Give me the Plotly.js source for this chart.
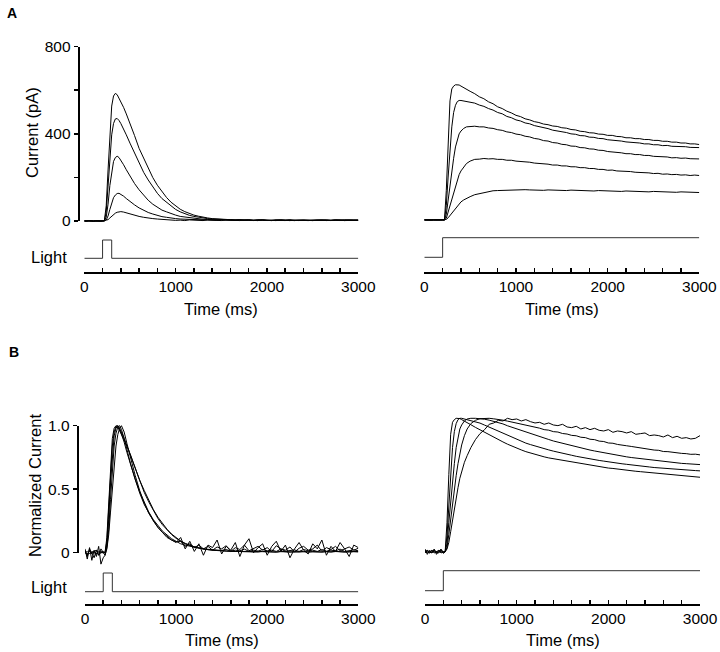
<!DOCTYPE html>
<html><head><meta charset="utf-8">
<script src="https://cdn.plot.ly/plotly-3.0.1.min.js"></script>
<style>html,body{margin:0;padding:0;background:#fff;} #chart{width:720px;height:652px;}</style>
</head><body><div id="chart"></div>
<script>
// ---- DATA ----
const timeMs = [0,25,50,75,100,125,150,175,200,
  220,240,260,280,300,320,340,360,380,400,430,460,
  500,550,600,650,700,750,800,850,900,950,1000,1050,1100,1150,1200,1250,1300,1350,1400,1450,
  1500,1550,1600,1650,1700,1750,1800,1850,1900,1950,2000,2050,2100,2150,2200,2250,2300,2350,2400,2450,
  2500,2550,2600,2650,2700,2750,2800,2850,2900,2950,3000];

// Panel A, brief flash (pA)
const flashCur1 = [1,-1,2,0,-2,1,0,-1,1,
  2,70,234,410,527,573,585,579,562,550,521,491,
  450,392,333,287,240,199,164,135,108,86, 68,54,43,34,27,22,17,14,11,9, 8,7,6,5,6,4,5,3,6,4, 3,5,2,4,3,5,2,4,3,5, 2,4,3,5,3,4,2,5,3,4, 3];
const flashCur2 = [0,1,-1,1,0,-1,1,0,-1,
  1,42,160,301,395,447,468,470,461,447,423,395,
  357,310,263,223,188,155,127,103,85,67, 53,42,33,26,21,17,14,11,9,8, 7,6,5,4,6,3,5,4,2,5, 3,4,2,5,3,2,4,3,5,2, 4,3,2,4,3,5,3,2,4,3, 4];
const flashCur3 = [1,0,-1,1,0,1,-1,0,1,
  0,18,77,163,232,273,291,297,291,279,258,235,
  205,172,143,119,95,77,62,50,42,33, 27,21,18,15,12,10,8,7,6,5, 6,4,5,3,5,4,2,4,3,5, 2,4,3,4,2,5,3,2,4,3, 5,2,3,4,2,4,3,5,2,3, 4];
const flashCur4 = [0,1,-1,0,1,0,0,1,-1,
  0,5,23,53,84,107,119,126,127,123,114,103,
  89,74,60,48,39,32,25,20,17,13, 11,9,8,7,6,5,6,4,5,3, 5,4,2,4,6,3,4,2,5,3, 4,2,5,3,4,6,2,3,5,4, 2,4,3,5,3,2,4,5,3,4, 3];
const flashCur5 = [-1,1,0,-1,0,1,0,-1,1,
  0,1,6,14,22,30,36,40,42,43,41,37,
  32,26,21,17,13,11,9,7,5,4, 3,4,2,5,3,4,2,5,3,4, 2,5,3,4,2,4,3,5,2,4, 3,2,5,3,4,2,3,5,4,2, 4,3,5,2,4,3,5,2,4,3, 4];

// Panel A, steady light (pA)
const stepCur1 = [0,1,-1,1,0,-1,1,0,0,
  0,136,360,546,601,614,620,620,619,614,606,598,
  590,579,565,556,542,533,519,511,499,491, 480,474,464,459,451,447,440,437,431,429, 423,421,415,413,407,405,400,399,394,393, 388,388,383,382,377,377,373,373,369,369, 365,365,361,361,357,357,353,353,349,349, 346];
const stepCur2 = [1,0,-1,0,1,0,-1,1,0,
  0,66,197,318,427,493,526,543,548,548,546,543,
  540,536,527,521,511,504,493,487,475,469, 459,454,445,441,433,429,422,419,412,409, 403,401,395,393,387,386,380,379,374,373, 368,367,363,362,358,357,353,353,349,349, 345,345,341,342,338,338,335,336,333,334, 332];
const stepCur3 = [0,-1,1,0,-1,1,0,0,1,
  0,26,94,163,223,283,335,369,395,408,420,427,
  429,430,427,427,422,420,414,411,404,401, 394,391,384,381,374,371,364,362,355,353, 347,345,339,338,332,331,326,325,320,319, 314,313,309,308,304,304,300,300,296,296, 292,292,289,289,285,286,283,284,281,282, 280];
const stepCur4 = [1,0,0,-1,1,0,-1,0,1,
  0,8,37,70,101,132,160,185,208,225,244,259,
  270,278,279,282,280,281,278,278,274,274, 270,269,265,265,261,260,256,256,252,252, 248,248,244,244,240,240,236,236,232,232, 228,229,225,225,222,222,219,219,216,216, 213,214,210,211,208,209,206,207,204,206, 204];
const stepCur5 = [0,1,-1,0,1,-1,0,1,0,
  0,3,10,21,33,44,55,66,75,83,92,99,
  107,116,121,127,131,134,135,136,137,138, 138,137,139,138,137,138,136,138,137,136, 137,135,137,136,134,136,135,133,135,134, 132,134,133,131,133,132,130,132,131,129, 131,130,128,130,129,127,129,128,126,128, 126];

// Panel B, brief flash (normalized)
const flashNorm1 = [0.00,0.01,-0.01,0.01,0.00,-0.01,0.01,0.00,0.00,
  0.00,0.12,0.40,0.70,0.90,0.98,1.00,0.99,0.96,0.94,0.89,0.84,
  0.77,0.67,0.57,0.49,0.41,0.34,0.28,0.23,0.185,0.147, 0.116,0.092,0.074,0.058,0.046,0.038,0.029,0.024,0.019,0.016,
  0.014,0.012,0.011,0.010,0.012,0.008,0.010,0.007,0.011,0.008, 0.006,0.009,0.005,0.008,0.006,0.009,0.005,0.007,0.006,0.009,
  0.005,0.007,0.006,0.008,0.005,0.009,0.006,0.007,0.005,0.008, 0.006];
const flashNorm2 = [0.00,-0.01,0.01,0.00,0.01,-0.01,0.00,0.01,0.00,
  0.00,0.09,0.34,0.64,0.84,0.95,0.995,1.00,0.98,0.95,0.90,0.84,
  0.76,0.66,0.56,0.475,0.40,0.33,0.27,0.22,0.18,0.143, 0.113,0.09,0.07,0.056,0.045,0.036,0.029,0.024,0.02,0.017,
  0.015,0.013,0.011,0.01,0.013,0.007,0.011,0.008,0.005,0.01, 0.007,0.009,0.005,0.011,0.007,0.005,0.009,0.006,0.011,0.005,
  0.009,0.006,0.005,0.009,0.007,0.011,0.006,0.005,0.009,0.007, 0.009];
const flashNorm3 = [0.01,-0.02,0.02,-0.01,0.01,0.02,-0.02,0.00,0.01,
  0.00,0.06,0.26,0.55,0.78,0.92,0.98,1.00,0.98,0.94,0.87,0.79,
  0.69,0.58,0.48,0.40,0.32,0.26,0.21,0.17,0.14,0.11, 0.09,0.07,0.06,0.05,0.04,0.035,0.03,0.025,0.02,0.02,
  0.018,0.025,0.012,0.02,0.015,0.028,0.01,0.02,0.012,0.025, 0.015,0.02,0.01,0.028,0.012,0.018,0.022,0.01,0.025,0.015,
  0.02,0.01,0.025,0.012,0.02,0.015,0.028,0.01,0.018,0.022, 0.015];
const flashNorm4 = [0.02,-0.03,0.03,0.00,-0.04,0.02,-0.02,0.03,0.00,
  -0.02,0.04,0.18,0.42,0.66,0.84,0.94,0.99,1.00,0.97,0.90,0.81,
  0.70,0.58,0.47,0.38,0.31,0.25,0.20,0.16,0.13,0.10, 0.085,0.09,0.05,0.07,0.04,0.06,0.03,0.05,0.02,0.045,
  0.03,0.055,0.01,0.04,0.025,0.06,0.015,0.035,0.05,0.02, 0.04,0.01,0.055,0.03,0.02,0.045,0.005,0.035,0.05,0.02,
  0.03,0.06,0.01,0.04,0.025,0.05,0.015,0.03,0.045,0.02, 0.035];
const flashNorm5 = [0.03,-0.05,0.04,-0.06,0.02,-0.03,0.05,-0.09,-0.04,
  -0.02,0.03,0.14,0.32,0.52,0.70,0.84,0.93,0.98,1.00,0.95,0.86,
  0.74,0.61,0.49,0.39,0.31,0.25,0.20,0.16,0.12,0.10, 0.08,0.12,0.03,0.09,0.01,0.07,-0.02,0.06,0.04,0.10,
  -0.01,0.05,0.02,0.08,-0.03,0.06,0.11,0.00,0.04,0.07, -0.02,0.05,0.09,0.01,0.06,-0.04,0.03,0.08,0.02,-0.01,
  0.07,0.03,0.10,-0.02,0.05,0.01,0.08,0.03,-0.03,0.06, 0.04];

// Panel B, steady light (normalized)
const stepNorm1 = [0.01,-0.01,0.00,0.01,-0.01,0.00,0.01,-0.01,0.00,
  0.00,0.22,0.58,0.88,0.97,0.99,1.00,1.00,0.998,0.99,0.977,0.965,
  0.952,0.932,0.913,0.895,0.876,0.858,0.839,0.823,0.806,0.790, 0.776,0.763,0.750,0.739,0.729,0.719,0.711,0.703,0.697,0.690,
  0.684,0.677,0.671,0.665,0.658,0.652,0.647,0.642,0.637,0.632, 0.627,0.624,0.619,0.615,0.610,0.606,0.603,0.600,0.597,0.594,
  0.590,0.587,0.584,0.581,0.577,0.574,0.571,0.568,0.565,0.561, 0.558];
const stepNorm2 = [0.00,0.01,-0.01,0.00,0.01,-0.01,0.00,0.01,-0.01,
  0.00,0.12,0.36,0.58,0.78,0.90,0.96,0.99,1.00,1.00,0.995,0.99,
  0.985,0.976,0.964,0.949,0.934,0.918,0.901,0.887,0.869,0.854, 0.839,0.827,0.814,0.803,0.792,0.781,0.772,0.763,0.754,0.745,
  0.737,0.730,0.723,0.715,0.708,0.703,0.695,0.690,0.684,0.679, 0.673,0.668,0.664,0.659,0.655,0.650,0.646,0.642,0.639,0.635,
  0.631,0.628,0.624,0.622,0.619,0.615,0.613,0.611,0.609,0.608, 0.606];
const stepNorm3 = [0.01,0.00,-0.01,0.01,0.00,-0.01,0.01,0.00,-0.01,
  0.00,0.06,0.22,0.38,0.52,0.66,0.78,0.86,0.92,0.95,0.98,0.995,
  1.00,1.00,0.998,0.993,0.986,0.977,0.967,0.958,0.944,0.932, 0.921,0.909,0.897,0.886,0.874,0.862,0.851,0.841,0.830,0.821,
  0.811,0.802,0.793,0.786,0.776,0.769,0.762,0.755,0.748,0.741, 0.734,0.727,0.723,0.716,0.711,0.706,0.702,0.697,0.692,0.688,
  0.683,0.678,0.676,0.671,0.667,0.664,0.662,0.660,0.657,0.655, 0.653];
const stepNorm4 = [-0.01,0.01,0.00,-0.01,0.01,0.00,-0.01,0.01,0.00,
  0.00,0.03,0.13,0.25,0.36,0.47,0.57,0.66,0.74,0.80,0.87,0.92,
  0.96,0.985,0.997,1.00,1.00,0.996,0.993,0.986,0.979,0.972, 0.964,0.958,0.947,0.944,0.932,0.926,0.915,0.911,0.900,0.897,
  0.886,0.882,0.872,0.869,0.858,0.855,0.843,0.840,0.829,0.826, 0.815,0.813,0.804,0.801,0.794,0.789,0.783,0.779,0.772,0.768,
  0.762,0.760,0.751,0.750,0.744,0.742,0.737,0.735,0.730,0.731, 0.726];
const stepNorm5 = [0.02,-0.02,0.01,-0.01,0.02,-0.02,0.00,0.02,-0.01,
  0.00,0.02,0.07,0.15,0.24,0.32,0.40,0.48,0.55,0.60,0.67,0.72,
  0.78,0.84,0.885,0.915,0.955,0.965,0.985,0.98,1.00,0.99, 0.995,0.98,0.99,0.975,0.965,0.97,0.955,0.965,0.95,0.945,
  0.955,0.935,0.93,0.94,0.92,0.93,0.915,0.925,0.91,0.905, 0.915,0.895,0.905,0.90,0.89,0.90,0.88,0.885,0.89,0.87,
  0.875,0.87,0.86,0.875,0.855,0.865,0.85,0.855,0.845,0.85, 0.87];

// Light stimulus
const flashT = [0,200,200,300,300,3000];
const flashOn = [0,0,1,1,0,0];
const stepT = [0,200,200,3000];
const stepOn = [0,0,1,1];

// Tick labels
const normTickVals = [0,0.5,1];
const normTickText = ['0','0.5','1.0'];

// ---- LAYOUT ----
const W = 720, H = 652;
const FONT = 'Liberation Sans, Arial, Helvetica, sans-serif';
function yDom(pyZero, ppu, lo, hi){ return [1-(pyZero - lo*ppu)/H, 1-(pyZero - hi*ppu)/H]; }

const panels = [
  {x0:84.3, x1:358.3, axisPy:271.7, zero:221, ppu:0.2181, lo:-40, hi:830, lLow:258.3, lHigh:240, series:[flashCur1,flashCur2,flashCur3,flashCur4,flashCur5], light:[flashT,flashOn]},
  {x0:424.3, x1:699.3, axisPy:271.7, zero:220, ppu:0.2181, lo:-40, hi:830, lLow:257.3, lHigh:237.7, series:[stepCur1,stepCur2,stepCur3,stepCur4,stepCur5], light:[stepT,stepOn]},
  {x0:85, x1:358.3, axisPy:604, zero:552.7, ppu:127, lo:-0.14, hi:1.1, lLow:591.7, lHigh:573, series:[flashNorm1,flashNorm2,flashNorm3,flashNorm4,flashNorm5], light:[flashT,flashOn]},
  {x0:425, x1:700, axisPy:604, zero:551.7, ppu:133.4, lo:-0.1, hi:1.1, lLow:590.7, lHigh:570.7, series:[stepNorm1,stepNorm2,stepNorm3,stepNorm4,stepNorm5], light:[stepT,stepOn]}
];

const layout = {
  width: W, height: H, margin:{l:0,r:0,t:0,b:0},
  paper_bgcolor:'#fff', plot_bgcolor:'rgba(0,0,0,0)',
  showlegend:false, hovermode:false,
  font:{family:FONT, size:15, color:'#000'},
  annotations:[]
};
const traces = [];
const errs = [];

panels.forEach((p,i)=>{
  const n = i+1;
  const xk = n===1 ? 'xaxis' : 'xaxis'+n;
  const xr = n===1 ? 'x' : 'x'+n;
  const ydk = n===1 ? 'yaxis' : 'yaxis'+n;
  const ydr = n===1 ? 'y' : 'y'+n;
  const ylk = 'yaxis'+(n+4), ylr = 'y'+(n+4);
  layout[xk] = {
    domain:[p.x0/W, p.x1/W], range:[0,3000], anchor:'free', position:1-p.axisPy/H,
    showline:true, linecolor:'#000', linewidth:1.8, showgrid:false, zeroline:false,
    ticks:'inside', ticklen:4, tickwidth:1.5, tickcolor:'#000', tick0:0, dtick:1000,
    minor:{dtick:200, ticks:'inside', ticklen:4, tickwidth:1.5, tickcolor:'#000', showgrid:false},
    tickfont:{family:FONT, size:15.5, color:'#000'}, fixedrange:true
  };
  layout[ydk] = {domain:yDom(p.zero,p.ppu,p.lo,p.hi), range:[p.lo,p.hi], anchor:xr, visible:false, fixedrange:true};
  const lppu = p.lLow - p.lHigh;
  layout[ylk] = {domain:yDom(p.lLow,lppu,-0.3,1.3), range:[-0.3,1.3], anchor:xr, visible:false, fixedrange:true};
  p.series.forEach((s,k)=>{
    if (s.length !== timeMs.length) errs.push('panel '+n+' series '+(k+1)+' len '+s.length);
    traces.push({x:timeMs, y:s, xaxis:xr, yaxis:ydr, type:'scatter', mode:'lines',
      line:{color:'#000', width:1}, hoverinfo:'skip', showlegend:false});
  });
  traces.push({x:p.light[0], y:p.light[1], xaxis:xr, yaxis:ylr, type:'scatter', mode:'lines',
    line:{color:'#333', width:1}, hoverinfo:'skip', showlegend:false});
});

// visible y axes (left column)
layout.yaxis9 = {
  domain:yDom(221,0.2181,0,800), range:[0,800], anchor:'free', position:77.7/W, side:'left',
  showline:true, linecolor:'#000', linewidth:1.8, showgrid:false, zeroline:false,
  ticks:'outside', ticklen:4, tickwidth:1.5, tickcolor:'#000', tick0:0, dtick:400,
  minor:{dtick:200, ticks:'outside', ticklen:4, tickwidth:1.5, tickcolor:'#000', showgrid:false},
  tickfont:{family:FONT, size:15.5, color:'#000'}, fixedrange:true
};
layout.yaxis10 = {
  domain:yDom(552.7,127,0,1), range:[0,1], anchor:'free', position:76.7/W, side:'left',
  showline:true, linecolor:'#000', linewidth:1.8, showgrid:false, zeroline:false,
  ticks:'outside', ticklen:4, tickwidth:1.5, tickcolor:'#000',
  tickmode:'array', tickvals:normTickVals, ticktext:normTickText,
  tickfont:{family:FONT, size:15.5, color:'#000'}, fixedrange:true
};
traces.push({x:[null], y:[null], xaxis:'x', yaxis:'y9', type:'scatter', mode:'lines', hoverinfo:'skip', showlegend:false});
traces.push({x:[null], y:[null], xaxis:'x3', yaxis:'y10', type:'scatter', mode:'lines', hoverinfo:'skip', showlegend:false});

function ann(text, px, py, opts){
  return Object.assign({text:text, x:px/W, y:1-py/H, xref:'paper', yref:'paper', showarrow:false,
    xanchor:'center', yanchor:'middle', font:{family:FONT, size:16.5, color:'#000'}}, opts||{});
}
layout.annotations.push(
  ann('<b>A</b>', 5, 13, {xanchor:'left', font:{family:FONT, size:14, color:'#000'}}),
  ann('<b>B</b>', 7, 352, {xanchor:'left', font:{family:FONT, size:14, color:'#000'}}),
  ann('Current (pA)', 32, 133, {textangle:-90}),
  ann('Normalized Current', 35, 486, {textangle:-90}),
  ann('Light', 48.5, 257),
  ann('Light', 48.5, 587),
  ann('Time (ms)', 221.3, 309),
  ann('Time (ms)', 561.8, 309),
  ann('Time (ms)', 221.7, 640),
  ann('Time (ms)', 562.5, 640)
);
errs.forEach((e,i)=>layout.annotations.push(ann(e, 360, 20+i*18, {font:{size:14,color:'red'}})));

Plotly.newPlot('chart', traces, layout, {staticPlot:true, displayModeBar:false});
</script>
</body></html>
